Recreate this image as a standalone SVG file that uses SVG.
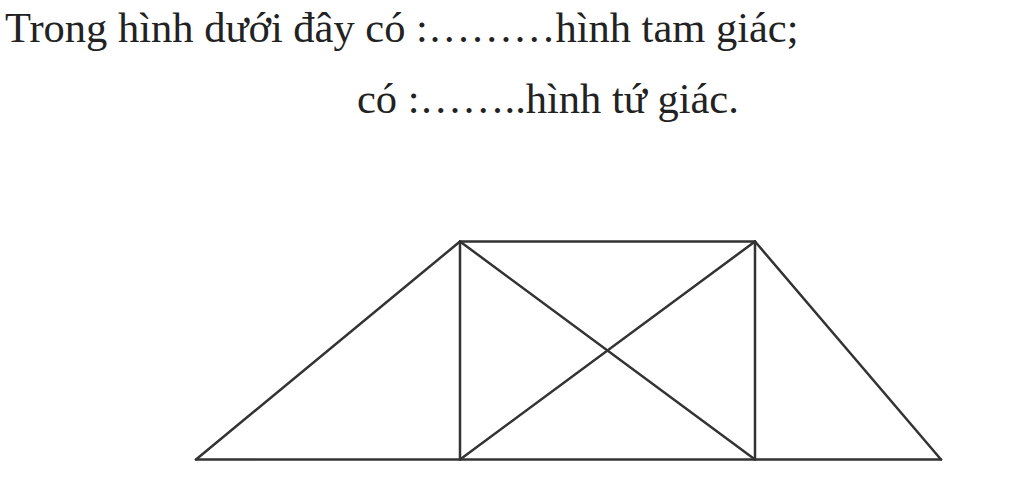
<svg xmlns="http://www.w3.org/2000/svg" width="1024" height="481" viewBox="0 0 1024 481">
<style>
.t{font-family:"Liberation Serif","Times New Roman",serif;font-size:42.5px;fill:#222}
.e{stroke:#333;stroke-width:2.5;fill:none;stroke-linecap:round}
</style>
<rect width="1024" height="481" fill="#fff"/>
<text class="t" x="5" y="42">Trong hình dưới đây có :………hình tam giác;</text>
<text class="t" x="357" y="113">có :……..hình tứ giác.</text>
<g id="figure">
<line class="e" x1="196" y1="459.5" x2="941" y2="459.5"/>
<line class="e" x1="460" y1="241.5" x2="755" y2="241.5"/>
<line class="e" x1="196" y1="459.5" x2="460" y2="241.5"/>
<line class="e" x1="755" y1="241.5" x2="941" y2="459.5"/>
<line class="e" x1="460" y1="241.5" x2="460" y2="459.5"/>
<line class="e" x1="755" y1="241.5" x2="755" y2="459.5"/>
<line class="e" x1="460" y1="241.5" x2="755" y2="459.5"/>
<line class="e" x1="460" y1="459.5" x2="755" y2="241.5"/>
</g>
</svg>
